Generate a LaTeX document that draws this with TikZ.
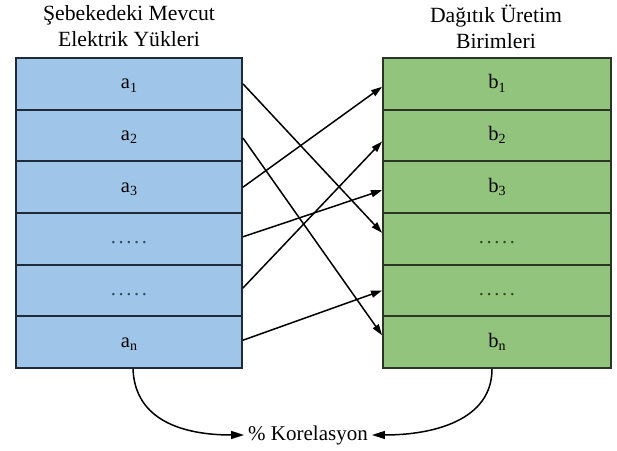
\documentclass[tikz,border=0pt]{standalone}
\usepackage{fontspec}
\setmainfont{Liberation Serif}
\usetikzlibrary{arrows.meta}
\definecolor{cellblue}{HTML}{9FC5E8}
\definecolor{cellgreen}{HTML}{93C47D}
\definecolor{edgeblue}{HTML}{1F2B38}
\definecolor{edgegreen}{HTML}{2A3526}
\definecolor{dotblue}{HTML}{2E4A66}
\definecolor{dotgreen}{HTML}{2F4A26}
\newcommand\fivedots{.\kern2.6pt.\kern2.6pt.\kern2.6pt.\kern2.6pt.}
\newcommand\lowsub[1]{\raisebox{-3.2pt}{\fontsize{14}{14}\selectfont #1}}
\begin{document}
\begin{tikzpicture}[x=1pt,y=-1pt,
  cell/.style={rectangle, minimum height=51.67pt, inner sep=0pt, line width=1.9pt,
    text height=10pt, text depth=0pt, font=\fontsize{20.5}{24}\selectfont},
  acell/.style={cell, fill=cellblue, draw=edgeblue, minimum width=226pt},
  bcell/.style={cell, fill=cellgreen, draw=edgegreen, minimum width=228pt},
  head/.style={align=center, font=\fontsize{21.7}{26}\selectfont, inner sep=0pt},
  link/.style={line width=1.5pt, -{Triangle[length=11pt,width=7pt]}},
  curvearrow/.style={line width=1.5pt, -{Triangle[length=13pt,width=8pt]}},
]
\useasboundingbox (0,0) rectangle (617,450);

\node[head] (hl) at (129,26.5) {Şebekedeki Mevcut\\Elektrik Yükleri};
\node[head] (hr) at (496,26.5) {Dağıtık Üretim\\Birimleri};

\node[acell] (a1) at (129,83.8) {a\lowsub{1}};
\node[acell] (a2) at (129,135.5) {a\lowsub{2}};
\node[acell] (a3) at (129,187.2) {a\lowsub{3}};
\node[acell] (a4) at (129,238.8) {\textcolor{dotblue}{\fivedots}};
\node[acell] (a5) at (129,290.5) {\textcolor{dotblue}{\fivedots}};
\node[acell] (a6) at (129,342.2) {a\lowsub{n}};

\node[bcell] (b1) at (497,83.8) {b\lowsub{1}};
\node[bcell] (b2) at (497,135.5) {b\lowsub{2}};
\node[bcell] (b3) at (497,187.2) {b\lowsub{3}};
\node[bcell] (b4) at (497,238.8) {\textcolor{dotgreen}{\fivedots}};
\node[bcell] (b5) at (497,290.5) {\textcolor{dotgreen}{\fivedots}};
\node[bcell] (b6) at (497,342.2) {b\lowsub{n}};

\draw[link] (a1.east) -- ([yshift=6pt]b4.west);
\draw[link] ([yshift=-2.5pt]a2.east) -- ([yshift=7pt]b6.west);
\draw[link] (a3.east) -- ([yshift=-3pt]b1.west);
\draw[link] ([yshift=2pt]a4.east) -- ([yshift=-3pt]b3.west);
\draw[link] ([yshift=2.5pt]a5.east) -- ([yshift=-6pt]b2.west);
\draw[link] ([yshift=2pt]a6.east) -- (b5.west);

\node[font=\fontsize{21}{25}\selectfont, inner sep=4pt, anchor=base] (kor) at (308,440) {\% Korelasyon};
\draw[curvearrow] ([xshift=4pt]a6.south) .. controls +(2,52) and +(-60,0) .. (kor.west);
\draw[curvearrow] ([xshift=-5pt]b6.south) .. controls +(0,52) and +(60,0) .. (kor.east);
\end{tikzpicture}
\end{document}
